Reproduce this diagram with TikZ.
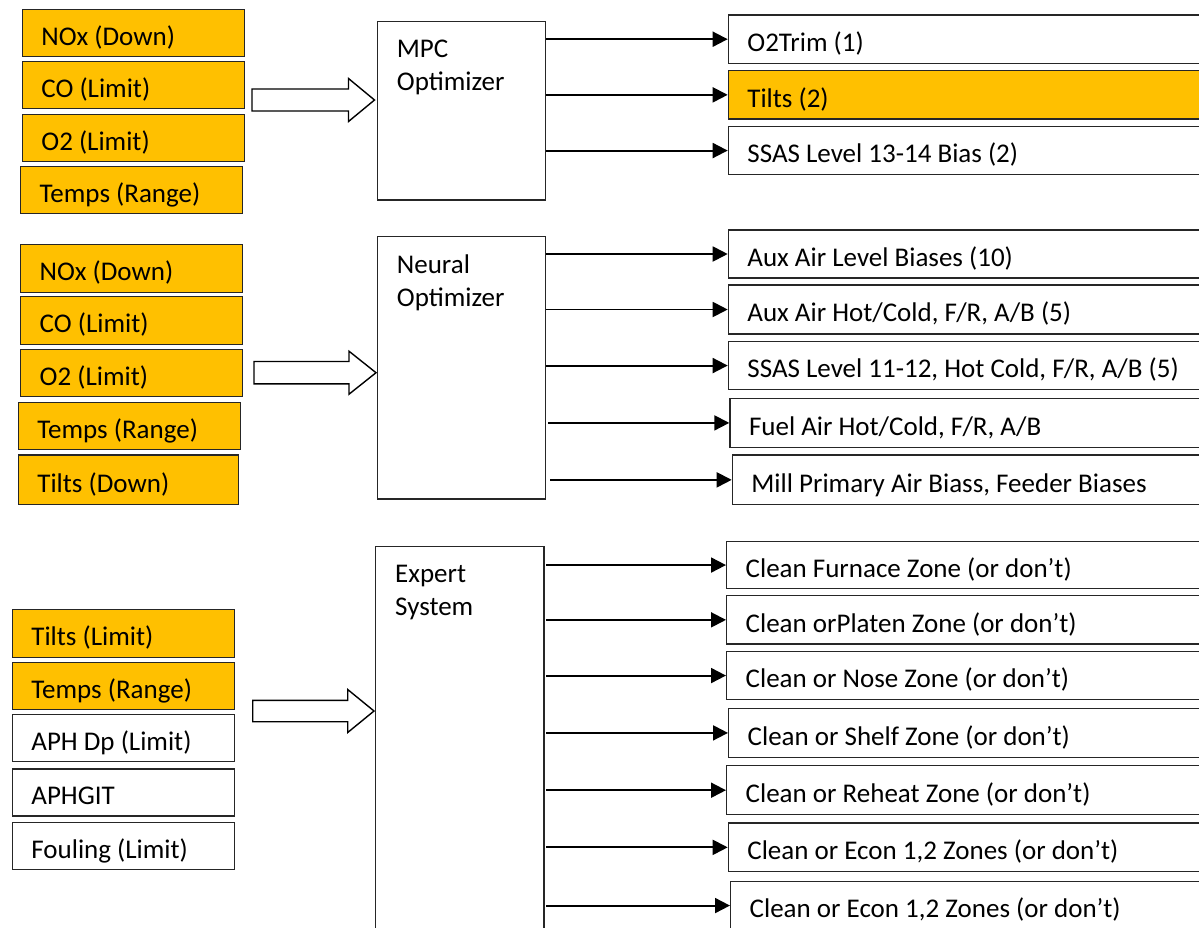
\documentclass[tikz,border=0pt]{standalone}
\usepackage{fontspec}
\setmainfont{Carlito}
\usetikzlibrary{arrows.meta}
\definecolor{gold}{HTML}{FFC000}
\definecolor{edge}{HTML}{262626}
\tikzset{
  box/.style={draw=edge, line width=1.4pt, anchor=north west, inner xsep=19pt, inner ysep=0pt,
    text height=27pt, text depth=2.6pt, font=\fontsize{27}{33}\selectfont, minimum height=48pt,
    execute at begin node={\spaceskip=0.226em plus 0.05em minus 0.02em\relax}},
  hot/.style={box, fill=gold},
  cold/.style={box, fill=white},
  lbox/.style={text width=184pt},
  rbox/.style={text width=500pt},
  engine/.style={draw=edge, line width=1.4pt, anchor=north west, inner sep=0pt, minimum width=168.3pt, fill=white},
  elabel/.style={anchor=north west, inner sep=0pt, align=left, font=\fontsize{27}{33}\selectfont, xshift=20pt, yshift=-19pt},
  arr/.style={line width=1.9pt, draw=black, -{Triangle[length=15pt,width=15pt]}},
  blockarr/.style={draw=black, line width=1.4pt, fill=white, line join=miter},
}
\begin{document}
\begin{tikzpicture}[x=1pt, y=-1pt]
\fill[white] (0,0) rectangle (1199,927);
\clip (0,0) rectangle (1199,927);

% ---------- MPC group ----------
\node[hot, lbox, minimum height=46.7pt] (i1a) at (21.7,9) {NOx (Down)};
\node[hot, lbox, minimum height=47pt] (i1b) at (21.7,61) {CO (Limit)};
\node[hot, lbox, minimum height=46.7pt] (i1c) at (21.7,114) {O2 (Limit)};
\node[hot, lbox, minimum height=47pt] (i1d) at (20,166) {Temps (Range)};
\node[engine, minimum height=178.6pt, label={[elabel]north west:{MPC\\Optimizer}}] (mpc) at (376.7,20.7) {};
\node[cold, rbox, minimum height=48.4pt] (o1a) at (727.7,14.3) {O2Trim (1)};
\node[hot, rbox, minimum height=48.3pt] (o1b) at (727.7,70) {Tilts (2)};
\node[cold, rbox, minimum height=48.3pt] (o1c) at (727.7,125.7) {SSAS Level 13-14 Bias (2)};

\coordinate (t1) at (374.5,100);
\draw[blockarr] (t1) -- ++(-26,-21.5) -- ++(0,10.5) -- ++(-96.5,0) -- ++(0,22) -- ++(96.5,0) -- ++(0,10.5) -- cycle;
\foreach \o in {o1a,o1b,o1c} \draw[arr] (mpc.east |- \o.west) -- (\o.west);

% ---------- Neural group ----------
\node[hot, lbox, minimum height=47.7pt] (i2a) at (20,244) {NOx (Down)};
\node[hot, lbox, minimum height=48pt] (i2b) at (20,296) {CO (Limit)};
\node[hot, lbox, minimum height=47pt] (i2c) at (20,349) {O2 (Limit)};
\node[hot, lbox, minimum height=47.3pt] (i2d) at (17.7,401.7) {Temps (Range)};
\node[hot, lbox, minimum height=49.7pt, text width=182pt] (i2e) at (17.7,454.3) {Tilts (Down)};
\node[engine, minimum height=262.6pt, label={[elabel]north west:{Neural\\Optimizer}}] (nn) at (376.7,235.7) {};
\node[cold, rbox, minimum height=48pt] (o2a) at (727.7,229.3) {Aux Air Level Biases (10)};
\node[cold, rbox, minimum height=49pt] (o2b) at (727.7,284.3) {Aux Air Hot/Cold, F/R, A/B (5)};
\node[cold, rbox, minimum height=48.3pt] (o2c) at (727.7,340.7) {SSAS Level 11-12, Hot Cold, F/R, A/B (5)};
\node[cold, rbox, minimum height=49pt] (o2d) at (729.3,397.7) {Fuel Air Hot/Cold, F/R, A/B};
\node[cold, rbox, minimum height=49.7pt] (o2e) at (731.7,454.3) {Mill Primary Air Biass, Feeder Biases};

\coordinate (t2) at (376,372.7);
\draw[blockarr] (t2) -- ++(-27,-21.5) -- ++(0,10.3) -- ++(-95,0) -- ++(0,22.4) -- ++(95,0) -- ++(0,10.3) -- cycle;
\foreach \o in {o2a,o2b,o2c} \draw[arr] (nn.east |- \o.west) -- (\o.west);
\draw[arr] ([xshift=2pt]nn.east |- o2d.west) -- (o2d.west);
\draw[arr] ([xshift=4pt]nn.east |- o2e.west) -- (o2e.west);

% ---------- Expert group ----------
\node[hot, lbox, minimum height=47.7pt] (i3a) at (11.7,609) {Tilts (Limit)};
\node[hot, lbox, minimum height=47.3pt] (i3b) at (11.7,661.7) {Temps (Range)};
\node[cold, lbox, minimum height=47pt] (i3c) at (11.7,714) {APH Dp (Limit)};
\node[cold, lbox, minimum height=47pt] (i3d) at (11.7,768.3) {APHGIT};
\node[cold, lbox, minimum height=47.3pt] (i3e) at (11.7,821.7) {Fouling (Limit)};
\node[engine, minimum height=500pt, label={[elabel]north west:{Expert\\System}}] (es) at (375,545.7) {};
\node[cold, rbox, minimum height=46.7pt] (o3a) at (726,541) {Clean Furnace Zone (or don’t)};
\node[cold, rbox, minimum height=48.3pt] (o3b) at (726,595) {Clean orPlaten Zone (or don’t)};
\node[cold, rbox, minimum height=48.3pt] (o3c) at (726,650.7) {Clean or Nose Zone (or don’t)};
\node[cold, rbox, minimum height=49pt] (o3d) at (728,707.7) {Clean or Shelf Zone (or don’t)};
\node[cold, rbox, minimum height=49pt] (o3e) at (726,765) {Clean or Reheat Zone (or don’t)};
\node[cold, rbox, minimum height=48.7pt] (o3f) at (727.7,822.3) {Clean or Econ 1,2 Zones (or don’t)};
\node[cold, rbox, minimum height=48.3pt] (o3g) at (730,880.7) {Clean or Econ 1,2 Zones (or don’t)};

\coordinate (t3) at (374,711);
\draw[blockarr] (t3) -- ++(-26.3,-21.5) -- ++(0,10.8) -- ++(-95,0) -- ++(0,21.4) -- ++(95,0) -- ++(0,10.8) -- cycle;
\foreach \o in {o3a,o3b,o3c,o3d,o3e,o3f,o3g} \draw[arr] ([xshift=1.7pt]es.east |- \o.west) -- (\o.west);
\end{tikzpicture}
\end{document}
